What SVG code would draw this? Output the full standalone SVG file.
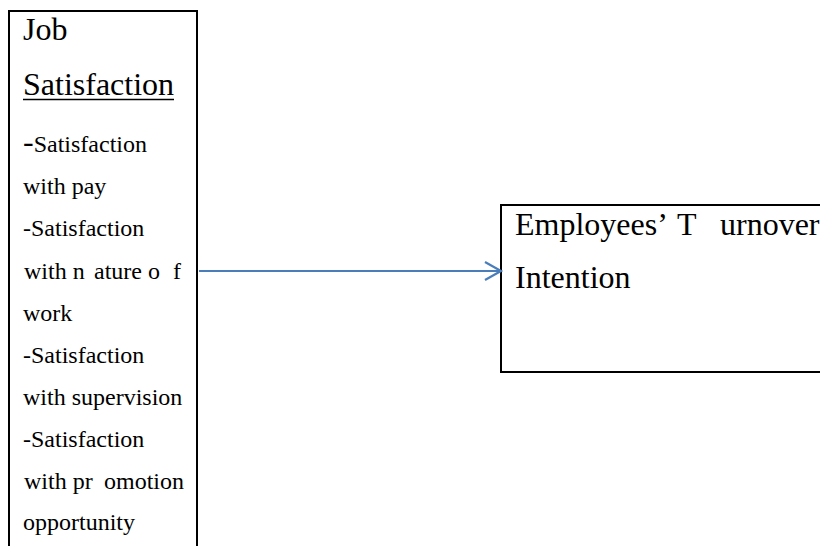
<svg xmlns="http://www.w3.org/2000/svg" width="820" height="546" viewBox="0 0 820 546">
<style>
.box{fill:#fff;stroke:#000;stroke-width:2}
.big{font-size:32px;fill:#000}
.sm{font-size:24px;fill:#000}
.conn{stroke:#4a7ebb;stroke-width:2.2;fill:none}
</style>
<rect width="820" height="546" fill="#fff"/>
<g id="job-satisfaction" font-family="Liberation Serif, Times New Roman, serif">
<rect class="box" x="9" y="11" width="188" height="545"/>
<text class="big" x="23" y="40">Job</text>
<text class="big" x="23" y="95">Satisfaction</text>
<line x1="23" y1="99.5" x2="174" y2="99.5" stroke="#000" stroke-width="1.6"/>
<text x="23" y="152"><tspan class="big">-</tspan><tspan class="sm">Satisfaction</tspan></text>
<text class="sm" x="23" y="194">with pay</text>
<text class="sm" x="23" y="236">-Satisfaction</text>
<text class="sm" y="279"><tspan x="24">with n</tspan><tspan x="94">ature o</tspan><tspan x="173">f</tspan></text>
<text class="sm" x="23" y="321">work</text>
<text class="sm" x="23" y="363">-Satisfaction</text>
<text class="sm" x="23" y="405">with supervision</text>
<text class="sm" x="23" y="447">-Satisfaction</text>
<text class="sm" y="489"><tspan x="24">with pr</tspan><tspan x="104">omotion</tspan></text>
<text class="sm" x="23" y="530">opportunity</text>
</g>
<g id="turnover-intention" font-family="Liberation Serif, Times New Roman, serif">
<rect class="box" x="501" y="205" width="330" height="167"/>
<text class="big" y="235"><tspan x="515">Employees’</tspan><tspan x="677">T</tspan><tspan x="720">urnover</tspan></text>
<text class="big" x="515" y="288">Intention</text>
</g>
<g id="connectors">
<line class="conn" x1="199" y1="271" x2="501" y2="271"/>
<polyline class="conn" points="485,262 501,271 485,280"/>
</g>
</svg>
